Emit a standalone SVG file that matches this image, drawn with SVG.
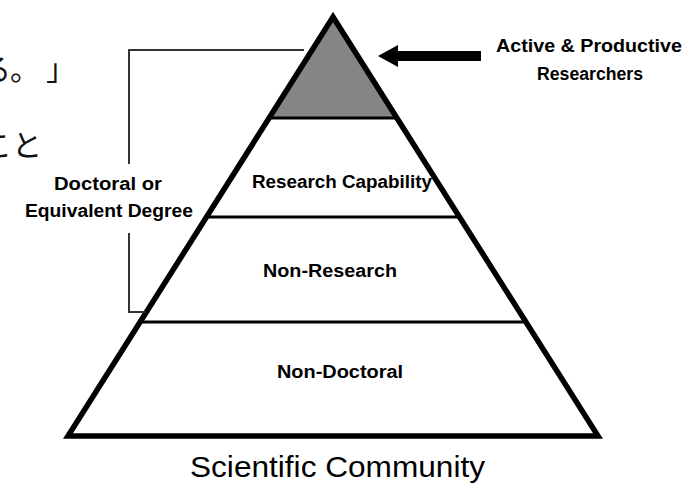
<svg xmlns="http://www.w3.org/2000/svg" width="685" height="483" viewBox="0 0 685 483">
  <style>
    .jp { font-family: "Noto Sans CJK JP", "Noto Sans CJK SC", sans-serif; font-size: 30px; fill: #111; }
    .lbl { font-family: "Liberation Sans", Arial, sans-serif; font-weight: bold; font-size: 18px; fill: #000; }
    .title { font-family: "Liberation Sans", Arial, sans-serif; font-size: 29px; fill: #000; }
    .divider { stroke: #000; stroke-width: 3; }
    .bracket { fill: none; stroke: #333; stroke-width: 2; }
  </style>
  <rect width="685" height="483" fill="#fff"/>

  <!-- body text running behind the figure -->
  <g id="body-text">
    <text class="jp" x="-19" y="80">る</text>
    <text class="jp" x="10" y="80">。</text>
    <text class="jp" x="46" y="80">」</text>
    <text class="jp" x="-18" y="156">こと</text>
  </g>

  <!-- top tier: active and productive researchers -->
  <g id="tier-active">
    <polygon points="333,17 269,118 397,118" fill="#858585"/>
  </g>

  <g id="tier-research-capability">
    <line class="divider" x1="269" y1="118" x2="397" y2="118"/>
    <text class="lbl" x="252" y="188" textLength="180" lengthAdjust="spacingAndGlyphs">Research Capability</text>
  </g>

  <g id="tier-non-research">
    <line class="divider" x1="206" y1="217" x2="460" y2="217"/>
    <text class="lbl" x="263" y="277" textLength="134" lengthAdjust="spacingAndGlyphs">Non-Research</text>
  </g>

  <g id="tier-non-doctoral">
    <line class="divider" x1="140" y1="322" x2="526" y2="322"/>
    <text class="lbl" x="277" y="378" textLength="126" lengthAdjust="spacingAndGlyphs">Non-Doctoral</text>
  </g>

  <!-- pyramid outline -->
  <g id="pyramid">
    <polygon points="333,17 68,436 598,436" fill="none" stroke="#000" stroke-width="5.5" stroke-linejoin="miter"/>
  </g>

  <g id="label-active">
    <text class="lbl" x="496" y="52" textLength="186" lengthAdjust="spacingAndGlyphs">Active &amp; Productive</text>
    <text class="lbl" x="537" y="80" textLength="106" lengthAdjust="spacingAndGlyphs">Researchers</text>
  </g>

  <g id="label-degree">
    <text class="lbl" x="54" y="190" textLength="108" lengthAdjust="spacingAndGlyphs">Doctoral or</text>
    <text class="lbl" x="25" y="217" textLength="168" lengthAdjust="spacingAndGlyphs">Equivalent Degree</text>
  </g>

  <g id="label-community">
    <text class="title" x="190" y="477" textLength="295" lengthAdjust="spacingAndGlyphs">Scientific Community</text>
  </g>

  <g id="connectors">
    <!-- arrow pointing at the top tier -->
    <rect x="395" y="51" width="86" height="10" fill="#000"/>
    <polygon points="378,56 398,45 398,67" fill="#000"/>
    <!-- bracket spanning the doctoral tiers -->
    <polyline class="bracket" points="304,50 129,50 129,164"/>
    <polyline class="bracket" points="129,233 129,312 145,312"/>
  </g>
</svg>
